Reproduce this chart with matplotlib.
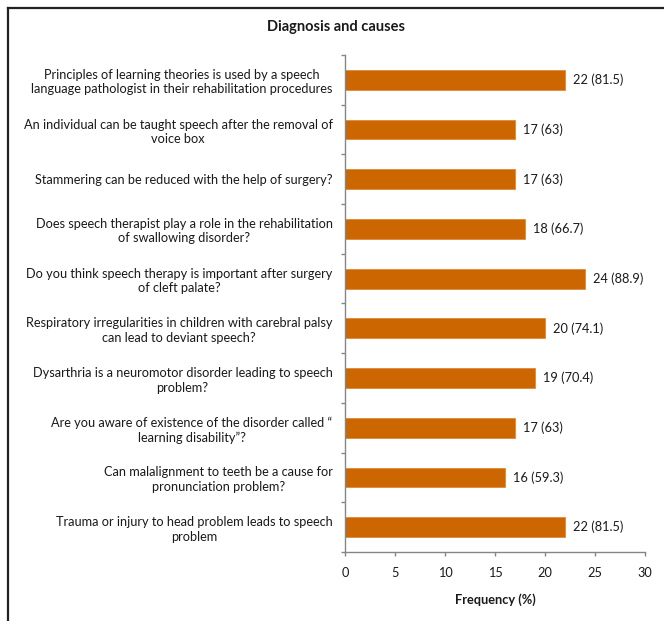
import matplotlib.pyplot as plt
from matplotlib.lines import Line2D

OUT_FILE = "out.png"

QUESTIONS = [
    "Principles of learning theories is used by a speech\nlanguage pathologist in their rehabilitation procedures",
    "An individual can be taught speech after the removal of\nvoice box",
    "Stammering can be reduced with the help of surgery?",
    "Does speech therapist play a role in the rehabilitation\nof swallowing disorder?",
    "Do you think speech therapy is important after surgery\nof cleft palate?",
    "Respiratory irregularities in children with carebral palsy\ncan lead to deviant speech?",
    "Dysarthria is a neuromotor disorder leading to speech\nproblem?",
    "Are you aware of existence of the disorder called \u201c\nlearning disability\u201d?",
    "Can malalignment to teeth be a cause for\npronunciation problem?",
    "Trauma or injury to head problem leads to speech\nproblem",
]
COUNTS = [22, 17, 17, 18, 24, 20, 19, 17, 16, 22]
PERCENTS = ["81.5", "63", "63", "66.7", "88.9", "74.1", "70.4", "63", "59.3", "81.5"]
X_TICKS = [0, 5, 10, 15, 20, 25, 30]

BAR_COLOR = "#CC6600"
AXIS_COLOR = "#868686"
TEXT_COLOR = "#1a1a1a"

plt.rcParams["font.family"] = ["Lato", "DejaVu Sans"]


def main():
    fig = plt.figure(figsize=(6.64, 6.21), dpi=100)
    ax = fig.add_axes([345 / 664, 1 - 552 / 621, 300 / 664, 497 / 621])

    n = len(QUESTIONS)
    ypos = list(range(n))
    ax.barh(ypos, COUNTS, height=0.4, color=BAR_COLOR, edgecolor="#E08A3C", linewidth=0.6)

    for y, c, p in zip(ypos, COUNTS, PERCENTS):
        ax.text(c + 0.8, y, f"{c} ({p})", va="center", ha="left", fontsize=9.2, color=TEXT_COLOR)

    ax.set_xlim(0, 30)
    ax.set_ylim(n - 0.5, -0.5)

    ax.set_xticks(X_TICKS)
    ax.set_xticklabels([str(t) for t in X_TICKS], fontsize=9.2, color=TEXT_COLOR)

    # category labels between boundary ticks
    ax.set_yticks([y - 0.5 for y in range(n + 1)])
    ax.set_yticklabels([])
    ax.set_yticks(ypos, minor=True)
    ax.set_yticklabels(QUESTIONS, minor=True, fontsize=9.2, color=TEXT_COLOR,
                       multialignment="center", linespacing=1.25)
    ax.tick_params(axis="y", which="minor", length=0, pad=9)
    ax.tick_params(axis="y", which="major", length=3, color=AXIS_COLOR, width=1)
    ax.tick_params(axis="x", length=3, color=AXIS_COLOR, width=1, pad=8)

    for side in ["top", "right"]:
        ax.spines[side].set_visible(False)
    for side in ["left", "bottom"]:
        ax.spines[side].set_color(AXIS_COLOR)
        ax.spines[side].set_linewidth(1)

    ax.set_xlabel("Frequency (%)", fontsize=9.2, fontweight="bold", color=TEXT_COLOR, labelpad=10)

    fig.text(336 / 664, 1 - 27 / 621, "Diagnosis and causes", ha="center", va="center",
             fontsize=10.5, fontweight="bold", color=TEXT_COLOR)

    # outer frame (top and left edges)
    fig.add_artist(Line2D([8 / 664, 1], [1 - 8 / 621, 1 - 8 / 621], color="#222222", lw=1.6))
    fig.add_artist(Line2D([8 / 664, 8 / 664], [0, 1 - 8 / 621], color="#222222", lw=1.6))

    plt.savefig(OUT_FILE, dpi=100)


if __name__ == "__main__":
    main()
